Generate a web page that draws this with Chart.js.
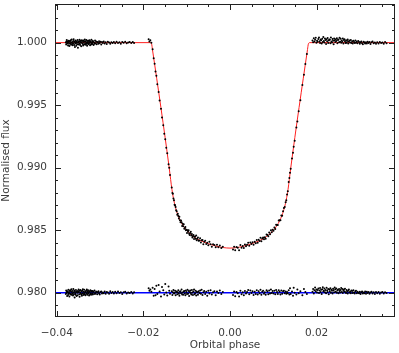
<!DOCTYPE html>
<html lang="en">
<head>
  <meta charset="UTF-8">
  <title>Transit light curve</title>
  <script src="https://cdn.jsdelivr.net/npm/chart.js"></script>
  <style>
    body {
      margin: 0;
      background: #ffffff;
    }
  </style>
</head>
<body>
  <canvas id="lightCurve" width="399" height="353"></canvas>

  <script>
    // axis limits
    const phaseRange = [-0.0404, 0.0381];
    const fluxRange = [0.97806, 1.00309];
    const residLevel = 0.980;

    // out of transit, before ingress
    const leftOutPhase = [
      -0.03790,-0.03782,-0.03776,-0.03768,-0.03760,-0.03753,-0.03745,-0.03739,-0.03731,-0.03722,
      -0.03716,-0.03708,-0.03700,-0.03693,-0.03686,-0.03677,-0.03670,-0.03662,-0.03655,-0.03648,
      -0.03640,-0.03632,-0.03625,-0.03617,-0.03610,-0.03602,-0.03595,-0.03587,-0.03580,-0.03572,
      -0.03564,-0.03557,-0.03549,-0.03542,-0.03534,-0.03527,-0.03519,-0.03511,-0.03504,-0.03496,
      -0.03489,-0.03481,-0.03473,-0.03466,-0.03458,-0.03451,-0.03443,-0.03435,-0.03428,-0.03420,
      -0.03413,-0.03405,-0.03397,-0.03390,-0.03382,-0.03375,-0.03367,-0.03360,-0.03352,-0.03344,
      -0.03337,-0.03329,-0.03321,-0.03314,-0.03306,-0.03299,-0.03291,-0.03283,-0.03276,-0.03268,
      -0.03261,-0.03253,-0.03245,-0.03238,-0.03230,-0.03222,-0.03215,-0.03207,-0.03199,-0.03192,
      -0.03184,-0.03176,-0.03169,-0.03161,-0.03150,-0.03138,-0.03127,-0.03115,-0.03103,-0.03090,
      -0.03077,-0.03064,-0.03050,-0.03036,-0.03022,-0.03007,-0.02990,-0.02972,-0.02955,-0.02935,
      -0.02915,-0.02893,-0.02870,-0.02845,-0.02820,-0.02792,-0.02765,-0.02738,-0.02710,-0.02680,
      -0.02650,-0.02618,-0.02585,-0.02552,-0.02520,-0.02488,-0.02455,-0.02420,-0.02385,-0.02350,
      -0.02315,-0.02280,-0.02245,-0.02214,-0.01878,-0.01860,-0.01839
    ];
    const leftOutFlux = [
      1.00002,0.99986,1.00009,1.00021,0.99994,0.99997,1.00012,0.99978,1.00005,1.00016,
      0.99991,0.99973,1.00007,1.00014,0.99996,1.00019,0.99984,1.00001,1.00025,0.99989,
      1.00006,0.99980,0.99992,1.00013,1.00028,0.99998,0.99982,1.00010,0.99965,1.00004,
      1.00017,0.99994,0.99976,1.00009,1.00002,0.99987,1.00022,0.99960,1.00007,0.99999,
      0.99985,1.00011,1.00024,0.99993,0.99981,1.00005,1.00015,0.99972,1.00003,1.00020,
      0.99996,1.00013,0.99990,0.99978,1.00018,1.00006,0.99986,1.00009,1.00026,0.99992,
      1.00011,0.99983,1.00003,1.00021,0.99991,0.99975,1.00014,1.00001,0.99994,1.00016,
      0.99988,1.00008,1.00019,0.99997,0.99980,1.00012,1.00005,0.99985,1.00023,0.99993,
      1.00004,0.99989,1.00014,1.00009,0.99982,1.00002,0.99992,1.00017,0.99996,1.00010,
      0.99987,1.00006,1.00001,0.99991,1.00012,0.99997,1.00008,0.99986,1.00005,0.99998,
      1.00009,0.99994,1.00003,0.99989,1.00007,1.00001,0.99992,1.00004,0.99997,1.00006,
      0.99995,1.00008,0.99998,1.00003,0.99991,1.00006,0.99999,1.00007,0.99996,1.00002,
      1.00005,0.99997,1.00006,0.99998,1.00027,1.00010,1.00019
    ];
    const leftOutResid = [
      0.97989,0.98018,0.97997,0.98007,0.97974,0.98012,0.98001,0.97981,0.98024,0.97992,
      0.98005,0.97969,0.98015,0.97994,0.98020,0.97986,0.98009,0.98027,0.97983,0.97998,
      0.98013,0.97991,0.97978,0.98030,0.98004,0.97988,0.98017,0.97962,0.98008,0.97996,
      0.97984,0.98022,0.98006,0.97973,0.98011,0.97999,0.97980,0.98014,0.98003,0.98025,
      0.98009,0.97987,0.97967,0.98018,0.98002,0.98021,0.97993,0.97985,0.98012,0.97976,
      0.98016,0.97995,0.98028,0.97982,0.98007,0.97990,0.98023,0.97998,0.97986,0.98010,
      0.97979,0.98006,0.98015,0.97991,0.98026,0.97997,0.97984,0.98011,0.98019,0.97993,
      0.98004,0.97977,0.98012,0.98008,0.97988,0.98020,0.97995,0.97983,0.98009,0.98014,
      0.97994,0.98013,0.97985,0.98005,0.98010,0.97989,0.98018,0.97998,0.97991,0.98007,
      0.98008,0.97988,0.98003,0.98011,0.97995,0.97986,0.98006,0.98009,0.97993,0.98002,
      0.97996,0.98010,0.97991,0.98005,0.98002,0.97992,0.98012,0.97997,0.98006,0.97994,
      0.98007,0.97995,0.98009,0.97998,0.98004,0.97990,0.98003,0.98008,0.97994,0.98001,
      0.97997,0.98006,0.97993,0.98004,0.98035,0.98015,0.98025
    ];

    // ingress
    const ingressPhase = [
      -0.01815,-0.01786,-0.01762,-0.01740,-0.01720,-0.01700,-0.01678,-0.01648,-0.01625,-0.01593,
      -0.01570,-0.01540,-0.01517,-0.01494,-0.01471,-0.01448,-0.01418,-0.01402,-0.01385
    ];
    const ingressFlux = [
      1.00000,0.99948,0.99875,0.99832,0.99770,0.99735,0.99668,0.99606,0.99538,0.99472,
      0.99402,0.99340,0.99272,0.99228,0.99160,0.99115,0.99028,0.99000,0.98942
    ];
    const ingressResid = [
      0.98008,0.98040,0.97975,0.98030,0.97980,0.98055,0.97990,0.98062,0.98010,0.97970,
      0.98045,0.98020,0.97985,0.98070,0.98002,0.97978,0.98050,0.98015,0.97992
    ];

    // transit floor, first half
    const floorLeftPhase = [
      -0.01345,-0.01330,-0.01318,-0.01305,-0.01292,-0.01280,-0.01268,-0.01255,-0.01243,-0.01230,
      -0.01218,-0.01205,-0.01193,-0.01180,-0.01168,-0.01155,-0.01143,-0.01130,-0.01118,-0.01105,
      -0.01093,-0.01080,-0.01068,-0.01055,-0.01043,-0.01030,-0.01018,-0.01005,-0.00993,-0.00980,
      -0.00968,-0.00955,-0.00943,-0.00930,-0.00918,-0.00905,-0.00893,-0.00880,-0.00868,-0.00855,
      -0.00843,-0.00830,-0.00818,-0.00805,-0.00793,-0.00780,-0.00768,-0.00755,-0.00740,-0.00725,
      -0.00708,-0.00690,-0.00672,-0.00655,-0.00635,-0.00615,-0.00595,-0.00572,-0.00548,-0.00525,
      -0.00500,-0.00475,-0.00448,-0.00420,-0.00390,-0.00360,-0.00330,-0.00300,-0.00268,-0.00235,
      -0.00200,-0.00165
    ];
    const floorLeftFlux = [
      0.98841,0.98797,0.98791,0.98753,0.98739,0.98703,0.98700,0.98686,0.98660,0.98652,
      0.98624,0.98631,0.98614,0.98593,0.98607,0.98579,0.98564,0.98578,0.98563,0.98534,
      0.98551,0.98531,0.98547,0.98512,0.98515,0.98525,0.98499,0.98504,0.98477,0.98500,
      0.98488,0.98499,0.98471,0.98462,0.98477,0.98487,0.98458,0.98470,0.98442,0.98452,
      0.98462,0.98429,0.98447,0.98450,0.98432,0.98457,0.98420,0.98432,0.98441,0.98416,
      0.98418,0.98436,0.98401,0.98419,0.98421,0.98387,0.98407,0.98416,0.98390,0.98400,
      0.98380,0.98408,0.98388,0.98367,0.98388,0.98381,0.98364,0.98384,0.98363,0.98377,
      0.98357,0.98368
    ];
    const floorLeftResid = [
      0.98012,0.97982,0.98004,0.98022,0.97993,0.97998,0.98015,0.97980,0.98006,0.98009,
      0.97987,0.98003,0.98019,0.97991,0.97976,0.98007,0.98011,0.97996,0.98026,0.97985,
      0.98002,0.97983,0.98009,0.98014,0.97994,0.97979,0.98018,0.98005,0.97989,0.98024,
      0.97992,0.98013,0.97974,0.98006,0.98017,0.97997,0.97986,0.98021,0.98001,0.97981,
      0.98010,0.98025,0.97988,0.97995,0.98016,0.97978,0.98008,0.98003,0.97984,0.98012,
      0.97998,0.98018,0.97991,0.98023,0.97981,0.98004,0.98013,0.97989,0.98007,0.97975,
      0.98015,0.97994,0.98020,0.97986,0.98003,0.98011,0.97979,0.98009,0.97997,0.98017,
      0.97990,0.98006
    ];

    // transit floor, second half
    const floorRightPhase = [
      0.00070,0.00095,0.00120,0.00150,0.00180,0.00210,0.00240,0.00268,0.00295,0.00320,
      0.00345,0.00370,0.00395,0.00420,0.00445,0.00470,0.00495,0.00520,0.00545,0.00570,
      0.00595,0.00618,0.00640,0.00662,0.00685,0.00705,0.00725,0.00745,0.00765,0.00785,
      0.00805,0.00825,0.00845,0.00865,0.00885,0.00905,0.00925,0.00945,0.00965,0.00985,
      0.01005,0.01025,0.01045,0.01065,0.01085,0.01105,0.01125,0.01145,0.01165,0.01185,
      0.01205,0.01225,0.01245,0.01265,0.01285,0.01300,0.01318,0.01335
    ];
    const floorRightFlux = [
      0.98346,0.98367,0.98340,0.98366,0.98360,0.98340,0.98381,0.98360,0.98373,0.98358,
      0.98385,0.98371,0.98384,0.98399,0.98376,0.98401,0.98390,0.98403,0.98384,0.98407,
      0.98396,0.98421,0.98400,0.98423,0.98414,0.98439,0.98412,0.98434,0.98442,0.98428,
      0.98443,0.98432,0.98465,0.98462,0.98451,0.98481,0.98467,0.98499,0.98483,0.98503,
      0.98495,0.98522,0.98509,0.98544,0.98542,0.98542,0.98577,0.98580,0.98579,0.98618,
      0.98616,0.98652,0.98677,0.98686,0.98723,0.98739,0.98786,0.98812
    ];
    const floorRightResid = [
      0.97982,0.98010,0.97972,0.98006,0.97996,0.97970,0.98016,0.97988,0.98003,0.97980,
      0.98014,0.97993,0.98005,0.98022,0.97987,0.98017,0.97998,0.98011,0.97981,0.98008,
      0.97990,0.98019,0.97985,0.98012,0.97996,0.98024,0.97983,0.98007,0.98015,0.97991,
      0.98004,0.97984,0.98020,0.98009,0.97988,0.98018,0.97993,0.98025,0.97997,0.98013,
      0.97994,0.98016,0.97987,0.98021,0.98005,0.97990,0.98019,0.98007,0.97986,0.98017,
      0.97992,0.98012,0.98015,0.97995,0.98010,0.97992,0.98006,0.97996
    ];

    // egress
    const egressPhase = [
      0.01356,0.01372,0.01386,0.01402,0.01432,0.01455,0.01471,0.01494,0.01533,0.01556,
      0.01586,0.01625,0.01671,0.01708,0.01740,0.01775
    ];
    const egressFlux = [
      0.98885,0.98918,0.98960,0.98992,0.99074,0.99120,0.99168,0.99216,0.99322,0.99370,
      0.99452,0.99540,0.99662,0.99744,0.99830,0.99910
    ];
    const egressResid = [
      0.98020,0.97985,0.98035,0.97990,0.98010,0.97975,0.98040,0.98000,0.97985,0.98025,
      0.97995,0.98012,0.97980,0.98030,0.98005,0.97990
    ];

    // out of transit, after egress
    const rightOutPhase = [
      0.01905,0.01920,0.01935,0.01950,0.01965,0.01980,0.01995,0.02010,0.02025,0.02040,
      0.02055,0.02068,0.02080,0.02093,0.02105,0.02118,0.02130,0.02143,0.02155,0.02168,
      0.02180,0.02193,0.02205,0.02218,0.02230,0.02243,0.02255,0.02268,0.02280,0.02293,
      0.02305,0.02318,0.02330,0.02343,0.02355,0.02368,0.02380,0.02393,0.02405,0.02418,
      0.02430,0.02443,0.02455,0.02468,0.02480,0.02493,0.02505,0.02518,0.02530,0.02543,
      0.02555,0.02568,0.02580,0.02593,0.02605,0.02618,0.02630,0.02643,0.02655,0.02668,
      0.02680,0.02693,0.02705,0.02718,0.02730,0.02745,0.02760,0.02775,0.02790,0.02805,
      0.02820,0.02835,0.02850,0.02865,0.02880,0.02895,0.02910,0.02928,0.02945,0.02962,
      0.02980,0.02998,0.03015,0.03033,0.03050,0.03068,0.03085,0.03103,0.03120,0.03140,
      0.03160,0.03180,0.03200,0.03222,0.03245,0.03268,0.03292,0.03318,0.03345,0.03372,
      0.03400,0.03430,0.03460,0.03490,0.03520,0.03550,0.03580,0.03615
    ];
    const rightOutFlux = [
      1.00018,1.00003,1.00035,1.00010,1.00024,1.00039,0.99999,1.00016,1.00007,1.00029,
      1.00042,1.00012,0.99997,1.00025,1.00020,0.99993,1.00031,1.00006,1.00045,1.00014,
      1.00001,1.00034,1.00022,0.99990,1.00027,1.00011,1.00037,0.99998,1.00017,1.00026,
      1.00023,0.99995,1.00041,1.00009,1.00002,1.00030,1.00016,0.99987,1.00033,1.00019,
      1.00006,1.00028,1.00013,1.00036,0.99996,1.00021,1.00025,1.00004,1.00039,1.00008,
      1.00031,1.00000,1.00018,1.00007,1.00034,0.99994,1.00022,1.00027,1.00011,0.99998,
      1.00020,0.99999,1.00013,1.00025,0.99994,1.00010,1.00017,1.00002,1.00022,0.99997,
      1.00012,0.99993,1.00015,1.00006,0.99997,1.00018,1.00000,1.00009,0.99995,1.00013,
      1.00006,0.99991,1.00003,1.00010,0.99995,0.99988,1.00007,1.00001,0.99993,1.00004,
      0.99994,1.00008,0.99998,1.00005,0.99990,1.00003,1.00009,0.99996,1.00001,0.99992,
      1.00004,0.99993,1.00006,0.99997,1.00002,0.99991,1.00005,0.99996
    ];
    const rightOutResid = [
      0.98007,0.98030,0.97994,0.98019,0.98041,0.98012,0.98026,0.98001,0.98022,0.98034,
      0.97998,0.98017,0.98038,0.98005,0.98024,0.97990,0.98028,0.98043,0.98009,0.98016,
      0.98033,0.98003,0.98021,0.97996,0.98039,0.98018,0.98006,0.98029,0.97988,0.98025,
      0.98011,0.98036,0.98000,0.98023,0.98016,0.97993,0.98032,0.98020,0.98004,0.98042,
      0.98027,0.98008,0.98034,0.97999,0.98018,0.98024,0.97995,0.98030,0.98013,0.98002,
      0.98021,0.98037,0.98006,0.98029,0.97997,0.98016,0.98026,0.98010,0.98032,0.98003,
      0.97998,0.98021,0.98012,0.97993,0.98016,0.98026,0.98002,0.98010,0.97996,0.98017,
      0.98014,0.97997,0.98019,0.98002,0.97993,0.98011,0.98016,0.97996,0.98008,0.98000,
      0.97995,0.98008,0.97989,0.98003,0.98010,0.97993,0.98002,0.97996,0.98009,0.97992,
      0.98007,0.97997,0.98005,0.97991,0.98001,0.98008,0.97994,0.98004,0.97990,0.98006,
      0.97996,0.98006,0.97992,0.98002,0.98005,0.97994,0.98003,0.97998
    ];

    // fitted transit model
    const modelPhase = [
      -0.04040,-0.01840,-0.01810,-0.01790,-0.01400,-0.01370,-0.01340,-0.01300,-0.01260,-0.01200,
      -0.01150,-0.01080,-0.01000,-0.00900,-0.00770,-0.00620,-0.00460,-0.00300,-0.00150,0.00000,
      0.00150,0.00300,0.00460,0.00620,0.00770,0.00900,0.01000,0.01080,0.01150,0.01200,
      0.01260,0.01300,0.01340,0.01370,0.01400,0.01790,0.01810,0.01840,0.03810
    ];
    const modelFlux = [
      1.00000,1.00000,0.99990,0.99945,0.98990,0.98905,0.98825,0.98745,0.98684,0.98618,
      0.98578,0.98535,0.98498,0.98465,0.98432,0.98408,0.98387,0.98371,0.98361,0.98357,
      0.98361,0.98371,0.98387,0.98408,0.98432,0.98465,0.98498,0.98535,0.98578,0.98618,
      0.98684,0.98745,0.98825,0.98905,0.98990,0.99945,0.99990,1.00000,1.00000
    ];

    function toPoints(xs, ys) {
      return xs.map((x, i) => ({ x: x, y: ys[i] }));
    }

    const allPhase = [].concat(leftOutPhase, ingressPhase, floorLeftPhase, floorRightPhase, egressPhase, rightOutPhase);
    const allFlux = [].concat(leftOutFlux, ingressFlux, floorLeftFlux, floorRightFlux, egressFlux, rightOutFlux);
    const allResid = [].concat(leftOutResid, ingressResid, floorLeftResid, floorRightResid, egressResid, rightOutResid);

    const textColor = "#3c3c3c";
    const tickFont = { family: "'DejaVu Sans', sans-serif", size: 10.5 };

    function isMultiple(v, step) {
      const r = v / step;
      return Math.abs(r - Math.round(r)) < 1e-6;
    }

    function fmtPhase(v) {
      const s = Math.abs(v).toFixed(2);
      return v < -1e-9 ? "\u2212" + s : s;
    }

    // box around the plot with inward ticks on all four sides
    const frameTicks = {
      id: "frameTicks",
      afterDatasetsDraw(chart) {
        const { ctx, chartArea: a, scales } = chart;
        const xs = scales.x, ys = scales.y;
        ctx.save();
        ctx.strokeStyle = "#222";
        ctx.lineWidth = 1;
        ctx.strokeRect(a.left + 0.5, a.top + 0.5, a.right - a.left - 1, a.bottom - a.top - 1);
        ctx.beginPath();
        xs.ticks.forEach(t => {
          const px = Math.round(xs.getPixelForValue(t.value)) + 0.5;
          const len = t.label ? 6 : 3;
          ctx.moveTo(px, a.bottom);
          ctx.lineTo(px, a.bottom - len);
          ctx.moveTo(px, a.top);
          ctx.lineTo(px, a.top + len);
        });
        ys.ticks.forEach(t => {
          const py = Math.round(ys.getPixelForValue(t.value)) + 0.5;
          const len = t.label ? 6 : 3;
          ctx.moveTo(a.left, py);
          ctx.lineTo(a.left + len, py);
          ctx.moveTo(a.right, py);
          ctx.lineTo(a.right - len, py);
        });
        ctx.stroke();
        ctx.restore();
      }
    };

    const ctx = document.getElementById("lightCurve").getContext("2d");
    new Chart(ctx, {
      type: "scatter",
      data: {
        datasets: [
          {
            label: "data",
            data: toPoints(allPhase, allFlux),
            backgroundColor: "#000",
            borderWidth: 0,
            pointRadius: 1,
            order: 0
          },
          {
            label: "residuals",
            data: toPoints(allPhase, allResid),
            backgroundColor: "#000",
            borderWidth: 0,
            pointRadius: 1,
            order: 0
          },
          {
            label: "model",
            data: toPoints(modelPhase, modelFlux),
            showLine: true,
            borderColor: "#ff2020",
            borderWidth: 1,
            pointRadius: 0,
            cubicInterpolationMode: "monotone",
            order: 1
          },
          {
            label: "zero",
            data: toPoints(phaseRange, [residLevel, residLevel]),
            showLine: true,
            borderColor: "#0000ff",
            borderWidth: 1.3,
            pointRadius: 0,
            order: 1
          }
        ]
      },
      options: {
        responsive: false,
        animation: false,
        events: [],
        layout: { padding: { left: 0, right: 4, top: 3, bottom: 0 } },
        plugins: {
          legend: { display: false },
          tooltip: { enabled: false }
        },
        scales: {
          x: {
            type: "linear",
            min: phaseRange[0],
            max: phaseRange[1],
            grid: { display: false, drawTicks: false },
            border: { display: false },
            ticks: {
              stepSize: 0.005,
              includeBounds: false,
              autoSkip: false,
              maxRotation: 0,
              padding: 10,
              color: textColor,
              font: tickFont,
              callback: v => isMultiple(v, 0.02) ? fmtPhase(v) : ""
            },
            title: {
              display: true,
              text: "Orbital phase",
              color: textColor,
              font: tickFont,
              padding: { top: 0, bottom: 1 }
            },
            afterFit: s => {
              s.height = 36;
              s.paddingLeft = 0;
              s.paddingRight = 0;
            }
          },
          y: {
            type: "linear",
            min: fluxRange[0],
            max: fluxRange[1],
            grid: { display: false, drawTicks: false },
            border: { display: false },
            ticks: {
              stepSize: 0.001,
              includeBounds: false,
              autoSkip: false,
              padding: 8,
              color: textColor,
              font: tickFont,
              callback: v => isMultiple(v, 0.005) ? v.toFixed(3) : ""
            },
            title: {
              display: true,
              text: "Normalised flux",
              color: textColor,
              font: tickFont,
              padding: { top: 0, bottom: 0 }
            },
            afterFit: s => {
              s.width = 55;
              s.paddingTop = 0;
              s.paddingBottom = 0;
            }
          }
        }
      },
      plugins: [frameTicks]
    });
  </script>
</body>
</html>
